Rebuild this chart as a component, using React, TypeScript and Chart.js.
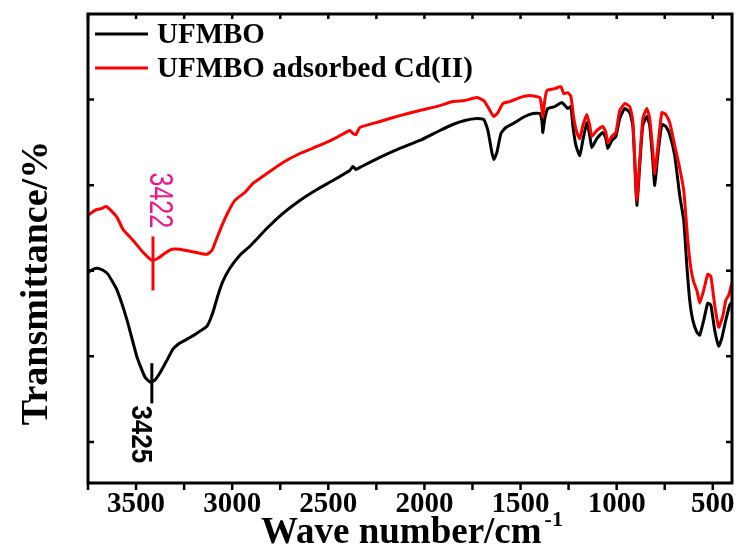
import { useEffect, useRef } from "react";
import { Chart, registerables } from "chart.js";

Chart.register(...registerables);

// ---------- data (wavenumber in cm-1, transmittance in arbitrary units) ----------
const ufmboWn = [
  3750, 3724, 3703, 3672, 3646, 3599, 3547, 3495, 3454, 3428, 3402, 3376, 3339, 3308, 3272, 3235,
  3183, 3131, 3100, 3074, 3048, 3012, 2960, 2908, 2819, 2736, 2648, 2559, 2476, 2388, 2372, 2356,
  2336, 2232, 2128, 2024, 1920, 1852, 1790, 1727, 1691, 1670, 1649, 1639, 1623, 1602, 1576, 1530,
  1478, 1436, 1400, 1389, 1384, 1374, 1358, 1322, 1285, 1264, 1254, 1238, 1228, 1212, 1192, 1176,
  1155, 1140, 1129, 1103, 1072, 1056, 1046, 1025, 1004, 984, 958, 932, 916, 906, 895, 880,
  864, 843, 828, 812, 802, 786, 765, 744, 724, 698, 672, 651, 635, 620, 604, 583,
  568, 547, 526, 510, 490, 469, 453, 432, 412, 401,
];
const ufmboT = [
  19.83, 20.17, 20.29, 20.06, 19.59, 17.73, 14.23, 9.91, 7.58, 7.0, 7.23, 8.05, 9.56, 10.85, 11.55, 12.01,
  12.71, 13.53, 15.16, 17.14, 18.78, 20.29, 21.81, 22.86, 24.96, 26.71, 28.22, 29.5, 30.55, 31.72, 32.19, 31.84,
  32.07, 33.24, 34.29, 35.22, 36.39, 37.09, 37.55, 37.78, 37.67, 36.39, 33.82, 33.0, 33.82, 36.04, 36.74, 37.32,
  38.02, 38.37, 38.37, 37.55, 36.15, 37.78, 38.95, 39.18, 39.65, 39.18, 38.95, 39.18, 36.97, 34.64, 33.47, 35.22,
  37.3, 35.8, 34.4, 35.45, 36.15, 35.45, 34.29, 35.22, 35.69, 37.78, 38.95, 38.48, 36.97, 32.89, 27.64, 32.3,
  36.97, 38.02, 36.97, 32.89, 29.97, 33.47, 37.09, 36.85, 35.92, 33.47, 28.81, 25.89, 20.64, 16.56, 14.23, 12.83,
  12.48, 14.23, 16.21, 15.98, 13.06, 11.2, 12.13, 14.23, 16.0, 16.3,
];

const cdWn = [
  3750, 3714, 3677, 3656, 3636, 3599, 3568, 3516, 3464, 3417, 3386, 3350, 3313, 3272, 3220, 3168,
  3131, 3105, 3084, 3053, 3022, 2986, 2934, 2892, 2819, 2736, 2648, 2559, 2476, 2388, 2372, 2356,
  2336, 2232, 2128, 2024, 1920, 1852, 1790, 1727, 1691, 1665, 1639, 1618, 1592, 1556, 1504, 1452,
  1400, 1389, 1384, 1374, 1363, 1322, 1290, 1275, 1254, 1238, 1223, 1207, 1192, 1176, 1155, 1140,
  1129, 1103, 1072, 1056, 1046, 1025, 1004, 984, 958, 932, 916, 906, 895, 880, 864, 843,
  828, 812, 802, 786, 765, 744, 724, 698, 677, 651, 630, 614, 599, 583, 568, 547,
  526, 510, 490, 469, 448, 432, 417, 401,
];
const cdT = [
  26.47, 27.06, 27.29, 27.52, 27.17, 26.24, 24.84, 23.56, 22.16, 21.22, 21.46, 22.04, 22.51, 22.51, 22.27, 22.04,
  21.92, 22.39, 23.56, 25.31, 26.82, 28.22, 29.16, 30.2, 31.37, 32.65, 33.7, 34.52, 35.34, 36.39, 36.04, 35.92,
  36.74, 37.44, 38.13, 38.72, 39.3, 39.77, 39.89, 40.23, 39.89, 38.95, 38.02, 38.48, 39.53, 39.77, 40.23, 40.47,
  40.23, 38.95, 38.02, 39.89, 41.05, 41.28, 41.52, 40.7, 40.81, 40.35, 37.78, 36.15, 35.45, 36.97, 38.25, 36.97,
  35.69, 36.39, 36.85, 36.15, 34.99, 35.69, 36.15, 38.72, 39.53, 39.18, 37.55, 32.89, 28.22, 32.89, 37.78, 38.95,
  37.78, 34.05, 31.37, 34.45, 38.48, 38.25, 37.32, 34.64, 32.54, 29.39, 23.56, 20.29, 18.66, 17.73, 16.21, 17.73,
  19.59, 19.36, 15.98, 13.41, 14.69, 16.56, 17.14, 18.54,
];

const seriesLabels = ["UFMBO", "UFMBO adsorbed Cd(II)"];
const seriesColors = ["#000000", "#ff0000"];

const X_MIN = 400;
const X_MAX = 3750;
const Y_MIN = -4.8;
const Y_MAX = 50;
const xTickLabels = [3500, 3000, 2500, 2000, 1500, 1000, 500];
const xTickMarks = [3750, 3500, 3250, 3000, 2750, 2500, 2250, 2000, 1750, 1500, 1250, 1000, 750, 500];
const yTickMarks = [0, 10, 20, 30, 40];

// peak annotations: [wavenumber, line top T, line bottom T]
const peakLabels = ["3422", "3425"];
const peakWn = [3412, 3418];
const peakLineTop = [24.0, 9.2];
const peakLineBottom = [17.7, 4.5];

const SERIF = '"Liberation Serif", "Times New Roman", serif';
const SANS = '"Liberation Sans", Arial, sans-serif';

const framePlugin = {
  id: "framePlugin",
  afterDatasetsDraw(chart: any) {
    const { ctx, scales } = chart;
    const x = scales.x;
    const y = scales.y;
    ctx.save();
    // red annotation (3422)
    const px0 = x.getPixelForValue(peakWn[0]);
    ctx.strokeStyle = "#ff0000";
    ctx.lineWidth = 3;
    ctx.beginPath();
    ctx.moveTo(px0, y.getPixelForValue(peakLineTop[0]));
    ctx.lineTo(px0, y.getPixelForValue(peakLineBottom[0]));
    ctx.stroke();
    ctx.save();
    ctx.translate(px0 - 3, y.getPixelForValue(peakLineTop[0]) - 64);
    ctx.rotate(Math.PI / 2);
    ctx.scale(1, 1.35);
    ctx.fillStyle = "#f0148c";
    ctx.font = `25px ${SANS}`;
    ctx.textAlign = "left";
    ctx.textBaseline = "alphabetic";
    ctx.fillText(peakLabels[0], 0, 0);
    ctx.restore();

    // black annotation (3425)
    const px1 = x.getPixelForValue(peakWn[1]);
    ctx.strokeStyle = "#000000";
    ctx.lineWidth = 3;
    ctx.beginPath();
    ctx.moveTo(px1, y.getPixelForValue(peakLineTop[1]));
    ctx.lineTo(px1, y.getPixelForValue(peakLineBottom[1]));
    ctx.stroke();
    ctx.save();
    ctx.translate(px1 - 20, y.getPixelForValue(peakLineBottom[1]) + 2);
    ctx.rotate(Math.PI / 2);
    ctx.scale(1, 1.12);
    ctx.fillStyle = "#000000";
    ctx.font = `bold 26px ${SANS}`;
    ctx.textAlign = "left";
    ctx.textBaseline = "alphabetic";
    ctx.fillText(peakLabels[1], 0, 0);
    ctx.restore();
    ctx.restore();
  },
  afterDraw(chart: any) {
    const { ctx, chartArea, scales } = chart;
    const { left, right, top, bottom } = chartArea;
    const x = scales.x;
    const y = scales.y;
    ctx.save();
    ctx.strokeStyle = "#000";
    ctx.lineWidth = 2.5;
    ctx.beginPath();
    for (const v of xTickMarks) {
      const px = x.getPixelForValue(v);
      ctx.moveTo(px, bottom);
      ctx.lineTo(px, bottom + 7);
      ctx.moveTo(px, top);
      ctx.lineTo(px, top + 5);
    }
    for (const v of yTickMarks) {
      const py = y.getPixelForValue(v);
      ctx.moveTo(left, py);
      ctx.lineTo(left + 6, py);
      ctx.moveTo(right, py);
      ctx.lineTo(right - 6, py);
    }
    ctx.stroke();
    ctx.lineWidth = 3;
    ctx.strokeRect(left, top, right - left, bottom - top);

    // x tick labels
    ctx.fillStyle = "#000";
    ctx.font = `bold 29px ${SERIF}`;
    ctx.textAlign = "center";
    ctx.textBaseline = "alphabetic";
    for (const v of xTickLabels) {
      ctx.fillText(String(v), x.getPixelForValue(v), bottom + 29);
    }

    // x title with superscript
    const main = "Wave number/cm";
    const sup = "-1";
    ctx.font = `bold 37px ${SERIF}`;
    const wMain = ctx.measureText(main).width;
    ctx.font = `bold 22px ${SERIF}`;
    const wSup = ctx.measureText(sup).width;
    const total = wMain + 3 + wSup;
    const startX = (left + right) / 2 - total / 2 + 2;
    ctx.textAlign = "left";
    ctx.font = `bold 37px ${SERIF}`;
    ctx.fillText(main, startX, bottom + 60);
    ctx.font = `bold 22px ${SERIF}`;
    ctx.fillText(sup, startX + wMain + 3, bottom + 43);

    // y title
    ctx.save();
    ctx.translate(47, 283);
    ctx.rotate(-Math.PI / 2);
    ctx.font = `bold 38px ${SERIF}`;
    ctx.textAlign = "center";
    ctx.fillText("Transmittance/%", 0, 0);
    ctx.restore();

    // legend
    const legendY = [34, 68];
    for (let i = 0; i < seriesLabels.length; i++) {
      ctx.strokeStyle = seriesColors[i];
      ctx.lineWidth = 3;
      ctx.beginPath();
      ctx.moveTo(left + 7, legendY[i]);
      ctx.lineTo(left + 60, legendY[i]);
      ctx.stroke();
      ctx.fillStyle = "#000";
      ctx.font = `bold 29px ${SERIF}`;
      ctx.textAlign = "left";
      ctx.textBaseline = "alphabetic";
      ctx.fillText(seriesLabels[i], left + 69, legendY[i] + 9);
    }
    ctx.restore();
  },
};

export default function App() {
  const ref = useRef<HTMLCanvasElement>(null);
  useEffect(() => {
    if (!ref.current) return;
    const chart = new Chart(ref.current, {
      type: "line",
      data: {
        datasets: [
          {
            label: seriesLabels[0],
            data: ufmboWn.map((w, i) => ({ x: w, y: ufmboT[i] })),
            borderColor: seriesColors[0],
            backgroundColor: seriesColors[0],
            borderWidth: 3,
            pointRadius: 0,
            tension: 0.15,
            fill: false,
            order: 1,
          },
          {
            label: seriesLabels[1],
            data: cdWn.map((w, i) => ({ x: w, y: cdT[i] })),
            borderColor: seriesColors[1],
            backgroundColor: seriesColors[1],
            borderWidth: 3,
            pointRadius: 0,
            tension: 0.15,
            fill: false,
            order: 0,
          },
        ],
      },
      options: {
        responsive: false,
        devicePixelRatio: 1,
        animation: false,
        layout: { padding: { left: 0, right: 10, top: 14, bottom: 0 } },
        plugins: { legend: { display: false }, tooltip: { enabled: false } },
        scales: {
          x: {
            type: "linear",
            min: X_MIN,
            max: X_MAX,
            reverse: true,
            grid: { display: false, drawTicks: false },
            border: { display: false },
            ticks: { display: false },
            afterFit: (s: any) => {
              s.height = 71;
            },
          },
          y: {
            type: "linear",
            min: Y_MIN,
            max: Y_MAX,
            grid: { display: false, drawTicks: false },
            border: { display: false },
            ticks: { display: false },
            afterFit: (s: any) => {
              s.width = 88;
            },
          },
        },
      },
      plugins: [framePlugin],
    } as any);
    return () => chart.destroy();
  }, []);
  return (
    <div style={{ position: "fixed", left: 0, top: 0, width: 742, height: 554, background: "#fff" }}>
      <canvas ref={ref} width={742} height={554} style={{ display: "block" }} />
    </div>
  );
}
